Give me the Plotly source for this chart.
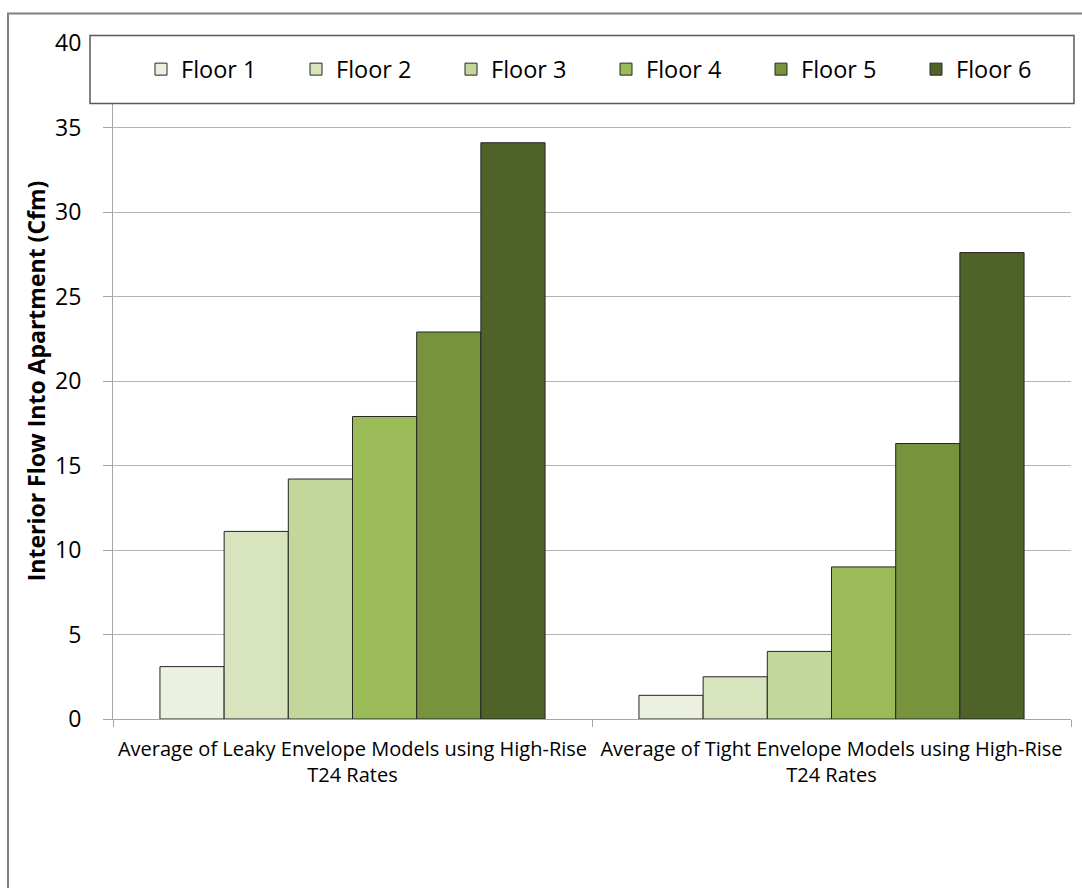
import plotly.graph_objects as go

# Envelope model groups shown along the x axis
categories = [
    "Average of Leaky Envelope Models using High-Rise<br>T24 Rates",
    "Average of Tight Envelope Models using High-Rise<br>T24 Rates",
]

# Interior flow into apartment (cfm) per floor
floor_names = ["Floor 1", "Floor 2", "Floor 3", "Floor 4", "Floor 5", "Floor 6"]
floor_1 = [3.1, 1.4]
floor_2 = [11.1, 2.5]
floor_3 = [14.2, 4.0]
floor_4 = [17.9, 9.0]
floor_5 = [22.9, 16.3]
floor_6 = [34.1, 27.6]

floor_colors = ["#EBF1DE", "#D7E4BD", "#C4D79B", "#9BBB59", "#77933C", "#4F6228"]

y_ticks = [0, 5, 10, 15, 20, 25, 30, 35, 40]

FONT = "Open Sans, Lato, Arial, sans-serif"

fig = go.Figure()
for name, values, color in zip(
    floor_names, [floor_1, floor_2, floor_3, floor_4, floor_5, floor_6], floor_colors
):
    fig.add_trace(
        go.Bar(
            name=name,
            x=categories,
            y=values,
            marker=dict(color=color, line=dict(color="#262626", width=1)),
        )
    )

fig.update_layout(
    width=1082,
    height=888,
    autosize=False,
    paper_bgcolor="white",
    plot_bgcolor="white",
    barmode="group",
    bargap=0.196,
    bargroupgap=0,
    margin=dict(l=113, r=11, t=42.5, b=169),
    font=dict(family=FONT, color="#000000"),
    showlegend=True,
    legend=dict(
        orientation="h",
        x=1.0,
        xanchor="right",
        y=0.961,
        yanchor="middle",
        bgcolor="rgba(0,0,0,0)",
        borderwidth=0,
        font=dict(size=23.5, family=FONT, color="#000000"),
        entrywidth=110,
        itemwidth=30,
        traceorder="normal",
    ),
    xaxis=dict(
        showline=True,
        linecolor="#a6a6a6",
        linewidth=1,
        ticks="outside",
        tickson="boundaries",
        ticklen=7,
        tickcolor="#a6a6a6",
        tickangle=0,
        ticklabelstandoff=12,
        tickfont=dict(size=20, family=FONT, color="#000000"),
        showgrid=False,
    ),
    yaxis=dict(
        range=[0, 40],
        tickvals=y_ticks,
        showline=True,
        linecolor="#a6a6a6",
        linewidth=1,
        ticks="outside",
        ticklen=9,
        tickcolor="#a6a6a6",
        ticklabelstandoff=17,
        tickfont=dict(size=23, family=FONT, color="#000000"),
        showgrid=True,
        gridcolor="#b3b3b3",
        gridwidth=1,
        zeroline=False,
        title=dict(
            text="<b>Interior Flow Into Apartment (Cfm)</b>",
            font=dict(size=23, family=FONT, color="#000000"),
            standoff=3,
        ),
    ),
    shapes=[
        # chart frame
        dict(
            type="rect", xref="paper", yref="paper",
            x0=-0.1096, x1=1.05, y0=-0.4, y1=1.0436,
            line=dict(color="#808080", width=2), fillcolor="rgba(0,0,0,0)",
            layer="above",
        ),
        # legend box
        dict(
            type="rect", xref="paper", yref="paper",
            x0=-0.024, x1=1.0031, y0=0.9106, y1=1.0111,
            line=dict(color="#595959", width=1.5), fillcolor="white",
            layer="above",
        ),
    ],
)

fig.write_html("out.html")
